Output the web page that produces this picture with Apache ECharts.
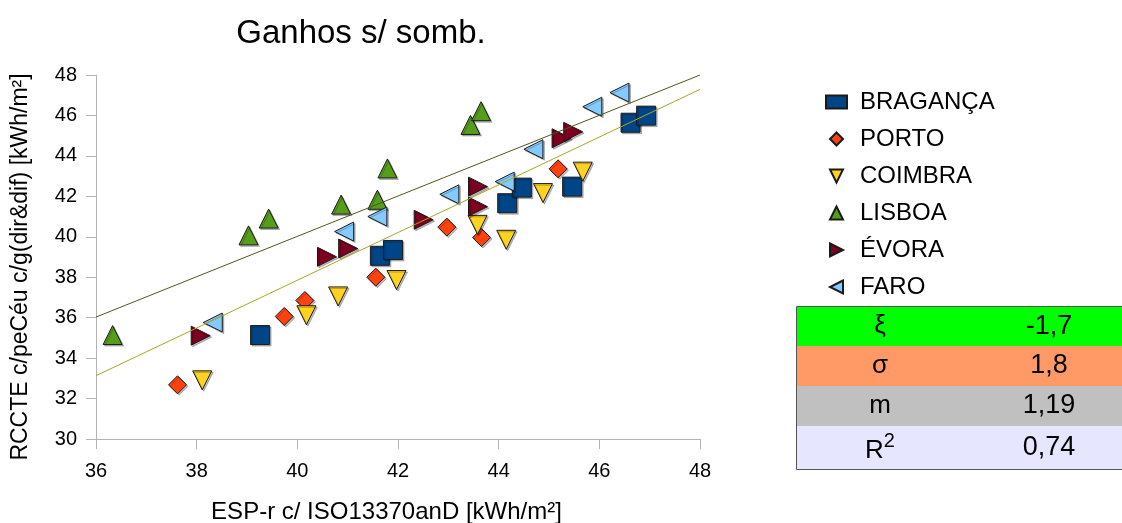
<!DOCTYPE html>
<html>
<head>
<meta charset="utf-8">
<script src="https://cdn.jsdelivr.net/npm/echarts@6/dist/echarts.min.js"></script>
<style>
  html, body { margin: 0; padding: 0; background: #fff; }
  #chart { width: 1122px; height: 523px; }
</style>
</head>
<body>
<div id="chart"></div>
<script>
// values
var cities = ['BRAGANÇA', 'PORTO', 'COIMBRA', 'LISBOA', 'ÉVORA', 'FARO'];

var bragancaX = [39.26, 41.64, 41.90, 44.17, 44.46, 45.46, 46.62, 46.93];
var bragancaY = [35.14, 39.06, 39.35, 41.66, 42.43, 42.48, 45.64, 45.99];

var portoX = [37.62, 39.74, 40.15, 41.56, 42.97, 43.66, 45.18];
var portoY = [32.68, 36.06, 36.85, 38.00, 40.48, 39.96, 43.36];

var coimbraX = [38.11, 40.18, 40.81, 41.97, 43.58, 44.15, 44.88, 45.67];
var coimbraY = [32.90, 36.12, 37.05, 37.86, 40.59, 39.85, 42.16, 43.22];

var lisboaX = [36.33, 39.03, 39.43, 40.87, 41.59, 41.79, 43.44, 43.65];
var lisboaY = [35.14, 40.07, 40.90, 41.59, 41.83, 43.38, 45.53, 46.21];

var evoraX = [38.08, 40.59, 41.01, 42.51, 43.59, 43.59, 45.25, 45.48];
var evoraY = [35.11, 39.01, 39.42, 40.84, 42.48, 41.49, 44.87, 45.19];

var faroX = [38.32, 40.93, 41.59, 43.02, 44.12, 44.69, 45.86, 46.40];
var faroY = [35.76, 40.26, 41.00, 42.10, 42.73, 44.33, 46.43, 47.13];

// reference line y = x and the fitted trend, end points
var lineX = [36, 48];
var refLineY = [36.03, 48.0];
var trendLineY = [33.13, 47.29];

var statLabels = ['ξ', 'σ', 'm', '{n|R}{s|2}'];
var statValues = ['-1,7', '1,8', '1,19', '0,74'];

var colors = ['#004586', '#ff420e', '#ffd320', '#579d1c', '#7e0021', '#83caff'];
var symbols = [
  'rect',
  'path://M5,0L10,5L5,10L0,5Z',
  'path://M0,0L10,0L5,10Z',
  'path://M5,0L10,10L0,10Z',
  'path://M0,0L10,5L0,10Z',
  'path://M10,0L0,5L10,10Z'
];
var rowColors = ['#00ff00', '#ff9966', '#c0c0c0', '#e6e6ff'];

function pairs(xs, ys) {
  return xs.map(function (x, i) { return [x, ys[i]]; });
}

var cityData = [
  pairs(bragancaX, bragancaY),
  pairs(portoX, portoY),
  pairs(coimbraX, coimbraY),
  pairs(lisboaX, lisboaY),
  pairs(evoraX, evoraY),
  pairs(faroX, faroY)
];

var font = 'Liberation Sans, Arial, sans-serif';

var series = cities.map(function (name, i) {
  return {
    name: name,
    type: 'scatter',
    data: cityData[i],
    symbol: symbols[i],
    symbolSize: i == 1 ? 18 : 19,
    itemStyle: {
      color: colors[i],
      borderColor: '#1a1a1a',
      borderWidth: 1,
      opacity: 1,
      shadowColor: 'rgba(0,0,0,0.25)',
      shadowOffsetX: 1.5,
      shadowOffsetY: 1.5
    },
    z: 2
  };
});

series.push({
  name: 'y=x',
  type: 'line',
  data: pairs(lineX, refLineY),
  symbol: 'none',
  lineStyle: { color: '#55551f', width: 1 },
  z: 5,
  silent: true
});
series.push({
  name: 'trend',
  type: 'line',
  data: pairs(lineX, trendLineY),
  symbol: 'none',
  lineStyle: { color: '#aaa622', width: 1 },
  z: 5,
  silent: true
});

// table on the right
var tableTop = 306.5;
var rowH = [39.5, 40, 40, 43.5];
var graphics = [];
var y = tableTop;
for (var r = 0; r < statValues.length; r++) {
  graphics.push({
    type: 'rect',
    shape: { x: 797, y: y, width: 325, height: rowH[r] },
    style: { fill: rowColors[r] }
  });
  graphics.push({
    type: 'text',
    x: 880, y: y + rowH[r] / 2,
    style: {
      text: statLabels[r], font: '26px ' + font, fill: '#000',
      align: 'center', verticalAlign: 'middle',
      rich: {
        n: { fontSize: 26, fontFamily: font, verticalAlign: 'bottom' },
        s: { fontSize: 20, fontFamily: font, verticalAlign: 'top', padding: [0, 0, 12, 0] }
      }
    }
  });
  graphics.push({
    type: 'text',
    x: 1049, y: y + rowH[r] / 2,
    style: {
      text: statValues[r], font: '27px ' + font, fill: '#000',
      align: 'center', verticalAlign: 'middle'
    }
  });
  y += rowH[r];
}
graphics.push({
  type: 'rect',
  shape: { x: 796.5, y: tableTop, width: 330, height: y - tableTop },
  style: { fill: 'none', stroke: '#555', lineWidth: 1 }
});

var myChart = echarts.init(document.getElementById('chart'));
var option = {
  backgroundColor: '#fff',
  animation: false,
  title: {
    text: 'Ganhos s/ somb.',
    left: 356,
    top: 12,
    textAlign: 'center',
    textStyle: { fontFamily: font, fontSize: 33, fontWeight: 'normal', color: '#000' }
  },
  legend: {
    data: cities,
    orient: 'vertical',
    left: 820,
    top: 85,
    itemWidth: 21,
    itemHeight: 13,
    itemGap: 13,
    textStyle: { fontFamily: font, fontSize: 24, lineHeight: 24, color: '#000', padding: [0, 0, 0, 8] }
  },
  grid: {
    left: 96,
    top: 75,
    width: 604,
    height: 364,
    outerBoundsMode: 'none'
  },
  xAxis: {
    type: 'value',
    min: 36,
    max: 48,
    interval: 2,
    name: 'ESP-r c/ ISO13370anD [kWh/m²]',
    nameLocation: 'middle',
    nameGap: 61,
    nameTextStyle: { fontFamily: font, fontSize: 24, color: '#000', padding: [0, 23, 0, 0] },
    axisLine: { lineStyle: { color: '#b3b3b3', width: 1 } },
    axisTick: { show: true, inside: false, length: 10, lineStyle: { color: '#b3b3b3' } },
    axisLabel: { fontFamily: font, fontSize: 20, color: '#000', margin: 22 },
    splitLine: { show: false }
  },
  yAxis: {
    type: 'value',
    min: 30,
    max: 48,
    interval: 2,
    name: 'RCCTE c/peCéu c/g(dir&dif) [kWh/m²]',
    nameLocation: 'middle',
    nameGap: 64,
    nameTextStyle: { fontFamily: font, fontSize: 23, color: '#000', padding: [0, 20, 0, 0] },
    axisLine: { show: true, lineStyle: { color: '#b3b3b3', width: 1 } },
    axisTick: { show: true, inside: false, length: 10, lineStyle: { color: '#b3b3b3' } },
    axisLabel: { fontFamily: font, fontSize: 20, color: '#000', margin: 19 },
    splitLine: { show: false }
  },
  graphic: graphics,
  series: series
};
myChart.setOption(option);
</script>
</body>
</html>
